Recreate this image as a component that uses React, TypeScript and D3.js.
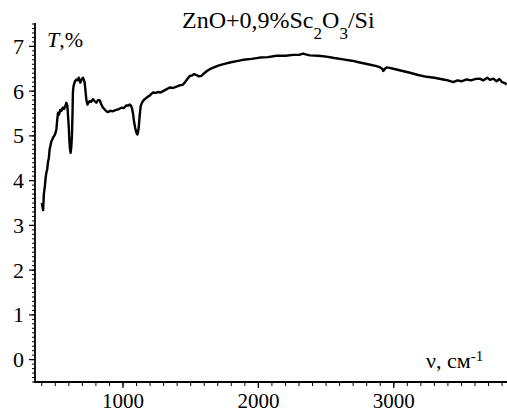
import React from "react";
import * as d3 from "d3";

const wavenumbers = [400, 405, 410, 416, 422, 428, 434, 440, 446, 452, 458, 464, 471, 478, 485, 492, 500, 508, 514, 520, 528, 536, 545, 555, 565, 575, 582, 589, 594, 599, 604, 608, 613, 618, 623, 627, 630, 634, 638, 645, 656, 665, 673, 679, 685, 692, 698, 704, 710, 717, 723, 729, 737, 745, 754, 765, 778, 790, 803, 815, 828, 840, 852, 865, 877, 889, 905, 926, 940, 951, 970, 988, 1005, 1025, 1040, 1050, 1060, 1067, 1074, 1081, 1090, 1099, 1106, 1111, 1116, 1123, 1131, 1140, 1148, 1160, 1173, 1185, 1197, 1210, 1222, 1240, 1259, 1278, 1296, 1320, 1345, 1370, 1395, 1419, 1440, 1456, 1475, 1493, 1510, 1525, 1542, 1560, 1579, 1600, 1620, 1641, 1680, 1715, 1750, 1789, 1840, 1887, 1950, 2010, 2070, 2134, 2200, 2257, 2300, 2330, 2350, 2380, 2440, 2503, 2560, 2626, 2690, 2749, 2810, 2873, 2900, 2915, 2922, 2935, 2947, 2970, 2996, 3050, 3119, 3180, 3243, 3300, 3365, 3400, 3439, 3470, 3500, 3538, 3570, 3600, 3636, 3660, 3690, 3710, 3735, 3760, 3780, 3800, 3820, 3834];

const transmittance = [3.5, 3.42, 3.34, 3.72, 3.85, 4.05, 4.18, 4.25, 4.42, 4.5, 4.7, 4.78, 4.88, 4.92, 4.97, 5.0, 5.05, 5.15, 5.35, 5.52, 5.48, 5.58, 5.56, 5.63, 5.6, 5.68, 5.74, 5.67, 5.45, 5.22, 4.9, 4.72, 4.62, 4.75, 5.0, 5.5, 5.97, 6.1, 6.15, 6.22, 6.26, 6.24, 6.3, 6.26, 6.19, 6.25, 6.27, 6.3, 6.26, 6.19, 6.0, 5.82, 5.7, 5.74, 5.78, 5.76, 5.82, 5.78, 5.74, 5.8, 5.8, 5.7, 5.63, 5.59, 5.55, 5.53, 5.56, 5.55, 5.57, 5.58, 5.6, 5.63, 5.62, 5.68, 5.68, 5.7, 5.67, 5.61, 5.5, 5.33, 5.18, 5.07, 5.03, 5.08, 5.18, 5.45, 5.67, 5.74, 5.78, 5.82, 5.85, 5.88, 5.9, 5.94, 5.97, 5.96, 5.98, 5.97, 6.0, 6.04, 6.08, 6.07, 6.1, 6.13, 6.14, 6.19, 6.27, 6.34, 6.35, 6.38, 6.36, 6.33, 6.34, 6.4, 6.45, 6.49, 6.54, 6.58, 6.61, 6.64, 6.67, 6.7, 6.72, 6.75, 6.76, 6.79, 6.79, 6.81, 6.81, 6.84, 6.82, 6.8, 6.79, 6.77, 6.74, 6.71, 6.68, 6.64, 6.6, 6.56, 6.53, 6.5, 6.45, 6.5, 6.53, 6.52, 6.5, 6.46, 6.41, 6.36, 6.32, 6.3, 6.26, 6.24, 6.2, 6.24, 6.22, 6.26, 6.24, 6.27, 6.28, 6.24, 6.3, 6.25, 6.28, 6.22, 6.27, 6.2, 6.18, 6.15];

const xMajorTicks = [1000, 2000, 3000];
const xMinorTicks = d3.range(400, 3801, 100);
const yMajorTicks = [0, 1, 2, 3, 4, 5, 6, 7];
const yMinorTicks = d3.range(-5, 76, 1).map((d) => d / 10);

const W = 507;
const H = 414;
const left = 35;
const right = 507.5;
const top = 24;
const bottom = 382;
const serifFamily =
  '"Times New Roman", Times, Tinos, "Liberation Serif", "Nimbus Roman", "FreeSerif", "Noto Serif", "DejaVu Serif", serif';

export default function App() {
  const x = d3.scaleLinear().domain([350, 3840]).range([left, right]);
  const y = d3.scaleLinear().domain([-0.5, 7.5]).range([bottom, top]);
  const pts = wavenumbers.map((w, i) => [w, transmittance[i]] as [number, number]);
  const line = d3
    .line<[number, number]>()
    .x((d) => x(d[0]))
    .y((d) => y(d[1]))
    .curve(d3.curveLinear);

  return (
    <svg
      width={W}
      height={H}
      style={{ position: "absolute", left: 0, top: 0, background: "#fff" }}
      fontFamily={serifFamily}
    >
      <rect x={0} y={0} width={W} height={H} fill="#fff" />
      {yMinorTicks.map((t) => (
        <line key={"ym" + t} x1={left - 3} x2={left} y1={y(t)} y2={y(t)} stroke="#000" strokeWidth={1} />
      ))}
      {yMajorTicks.map((t) => (
        <g key={"yM" + t}>
          <line x1={left - 6} x2={left} y1={y(t)} y2={y(t)} stroke="#000" strokeWidth={1.2} />
          <text x={24} y={y(t)} dy="0.34em" textAnchor="end" fontSize={22} fill="#000">
            {t}
          </text>
        </g>
      ))}
      {xMinorTicks.map((t) => (
        <line key={"xm" + t} x1={x(t)} x2={x(t)} y1={bottom} y2={bottom + 4} stroke="#000" strokeWidth={1} />
      ))}
      {xMajorTicks.map((t) => (
        <g key={"xM" + t}>
          <line x1={x(t)} x2={x(t)} y1={bottom} y2={bottom + 6} stroke="#000" strokeWidth={1.2} />
          <text x={x(t)} y={408} textAnchor="middle" fontSize={21} fill="#000">
            {t}
          </text>
        </g>
      ))}
      <line x1={left} x2={left} y1={top - 1} y2={bottom + 1} stroke="#000" strokeWidth={1.8} />
      <line x1={left - 1} x2={W} y1={bottom} y2={bottom} stroke="#000" strokeWidth={1.8} />
      <path d={line(pts) || ""} fill="none" stroke="#000" strokeWidth={2.4} strokeLinejoin="round" />
      <text x={182} y={28} fontSize={24} fill="#000">
        ZnO+0,9%Sc
        <tspan fontSize={17} dy={11}>2</tspan>
        <tspan dy={-11}>O</tspan>
        <tspan fontSize={17} dy={11}>3</tspan>
        <tspan dy={-11}>/Si</tspan>
      </text>
      <text x={47} y={47} fontSize={22} fill="#000">
        <tspan fontStyle="italic">T</tspan>,%
      </text>
      <text x={426} y={368} fontSize={22} fill="#000">
        ν, см
        <tspan fontSize={15} dy={-7}>-1</tspan>
      </text>
    </svg>
  );
}
